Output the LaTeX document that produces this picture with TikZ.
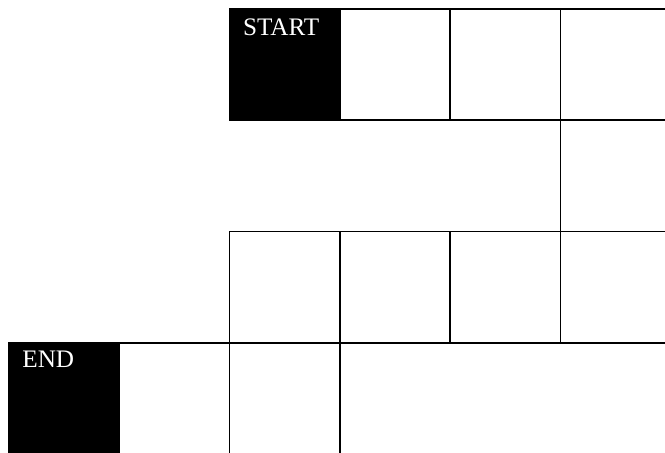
\documentclass[tikz,border=0pt]{standalone}
\usepackage{fontspec}
\setmainfont{Liberation Serif}

\begin{document}
\begin{tikzpicture}[
    x=0.5pt,y=-0.5pt,
    cell/.style={
        draw=black,
        line width=0.85pt,
        minimum width=55.15pt,
        minimum height=55.65pt,
        inner sep=0pt,
        anchor=north west
    },
    blackcell/.style={cell,fill=black},
    widecell/.style={cell,minimum width=220.6pt},
    celllabel/.style={text=white,font=\fontsize{12.6}{14}\selectfont,anchor=base west,inner sep=0pt}
]

\useasboundingbox (0,0) rectangle (665,452);
\clip (0,0) rectangle (665,452);

% black squares
\node[blackcell] (start) at ({8+110.3*2},{8+111.3*0}) {};
\node[blackcell] (end) at ({8+110.3*0},{8+111.3*3}) {};

% white squares
\foreach \c/\r in {3/0,4/0,5/0,5/1,2/2,3/2,4/2,5/2,1/3,2/3}
    \node[cell] (c\c\r) at ({8+110.3*\c},{8+111.3*\r}) {};

\node[widecell] (c33) at ({8+110.3*3},{8+111.3*3}) {};

\node[celllabel] (startlabel) at ([shift={(14,27)}]start.north west) {START};
\node[celllabel] (endlabel) at ([shift={(14,26)}]end.north west) {END};

\end{tikzpicture}
\end{document}
